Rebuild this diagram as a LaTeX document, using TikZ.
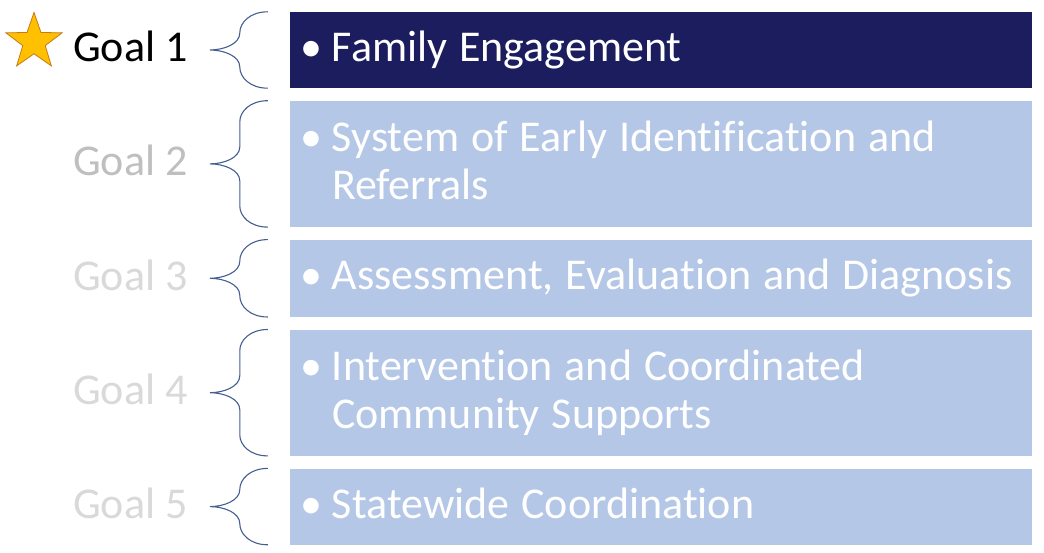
\documentclass[tikz,border=0pt]{standalone}
\usepackage{fontspec}
\setmainfont{Carlito}[Ligatures={NoCommon}]
\usepackage{xcolor}
\usepackage{tikz}
\usetikzlibrary{positioning,calc,shapes.geometric}
\definecolor{navybox}{RGB}{28,29,94}
\definecolor{lightbox}{RGB}{180,199,231}
\definecolor{bracecol}{RGB}{68,94,145}
\definecolor{goalgray}{RGB}{191,191,191}
\definecolor{goalpale}{RGB}{217,217,217}
\definecolor{starfill}{RGB}{255,192,0}
\definecolor{staredge}{RGB}{199,121,20}
\newcommand{\goalbullet}{\llap{\textbullet\hspace{10pt}}}

\begin{document}
\begin{tikzpicture}[x=1pt,y=1pt,
  node distance=12.5pt,
  goalbox/.style={rectangle, fill=lightbox, text=white, text width=742pt,
    minimum height=#1, inner xsep=0pt, inner ysep=0pt, align=left,
    font=\fontsize{44}{48}\selectfont,
    execute at begin node={\leftskip=42pt\spaceskip=12pt\relax}},
  goallabel/.style={anchor=base east, inner sep=0pt, font=\fontsize{44}{48}\selectfont},
  bracket/.style={draw=bracecol, line width=1.1pt}]

\useasboundingbox (0,0) rectangle (1044,553);

% Goal boxes
\node[goalbox=76pt, fill=navybox] (box1) at (661,503) {\goalbullet Family Engagement};
\node[goalbox=126pt, below=of box1] (box2) {\goalbullet System of Early Identification and\\Referrals\vphantom{y}};
\node[goalbox=77pt, below=of box2] (box3) {\goalbullet Assessment, Evaluation and Diagnosis};
\node[goalbox=126pt, below=of box3] (box4) {\goalbullet Intervention and Coordinated\\Community Supports};
\node[goalbox=76pt, below=of box4] (box5) {\goalbullet Statewide Coordination\vphantom{y}};

% Braces and goal labels
\foreach \i/\col in {1/black,2/goalgray,3/goalpale,4/goalpale,5/goalpale}{
  \coordinate (tip\i) at ($(box\i.west)+(-80,0)$);
  \draw[bracket] ($(box\i.north west)+(-22,0)$)
    .. controls +(-18,0) and +(0,10) .. ($(box\i.north west)+(-50,-21)$)
    -- ($(tip\i)+(30,17)$)
    .. controls +(0,-11) and +(14,0) .. (tip\i)
    .. controls +(14,0) and +(0,11) .. ($(tip\i)+(30,-17)$)
    -- ($(box\i.south west)+(-50,21)$)
    .. controls +(0,-10) and +(-18,0) .. ($(box\i.south west)+(-22,0)$);
  \node[goallabel, text=\col] (goal\i) at ($(tip\i)+(-22,-12)$) {Goal \i};
}

% Star for current goal
\node[star, star points=5, star point ratio=2.5, minimum size=59pt, inner sep=0pt,
  fill=starfill, draw=staredge, line width=0.8pt] (star) at (34,511) {};

\end{tikzpicture}
\end{document}
